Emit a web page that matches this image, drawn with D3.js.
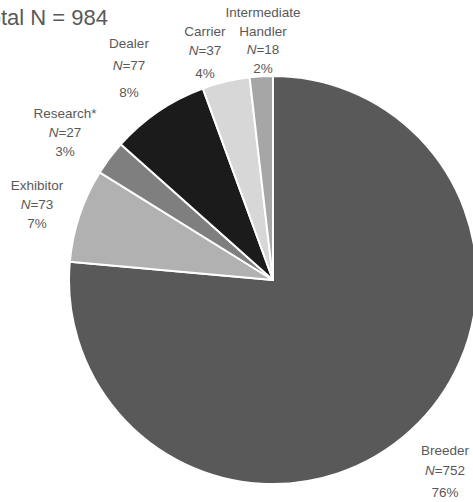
<!DOCTYPE html>
<html>
<head>
<meta charset="utf-8">
<script src="https://cdn.jsdelivr.net/npm/d3@7"></script>
<style>
  html, body { margin: 0; padding: 0; background: #fff; }
  svg { display: block; }
  text { font-family: "Liberation Sans", Arial, sans-serif; fill: #595959; }
</style>
</head>
<body>
<svg id="chart" width="473" height="502"></svg>
<script>
// Category order follows the pie clockwise from 12 o'clock
const categories = ["Breeder", "Exhibitor", "Research*", "Dealer", "Carrier", "Intermediate Handler"];
const counts = [752, 73, 27, 77, 37, 18];
const fills = ["#595959", "#b1b1b1", "#7f7f7f", "#1b1b1b", "#d7d7d7", "#a6a6a6"];
const totalLabel = "Total N = 984";

// Label anchor points (centre x, first-line y) and line heights for each category
const labelLayout = {
  "Breeder":              { x: 445, y: 455, name: ["Breeder"], gaps: [20, 22] },
  "Exhibitor":            { x: 37,  y: 190, name: ["Exhibitor"], gaps: [19, 19] },
  "Research*":            { x: 65,  y: 118, name: ["Research*"], gaps: [19, 19] },
  "Dealer":               { x: 129, y: 48,  name: ["Dealer"], gaps: [22, 27] },
  "Carrier":              { x: 205, y: 36,  name: ["Carrier"], gaps: [19, 23] },
  "Intermediate Handler": { x: 263, y: 17,  name: ["Intermediate", "Handler"], gaps: [19, 18, 19] }
};

const data = categories.map((c, i) => ({ name: c, value: counts[i], fill: fills[i] }));
const total = d3.sum(counts);

const svg = d3.select("#chart");
const cx = 273, cy = 280, radius = 204;

const pie = d3.pie().value(d => d.value).sort(null).startAngle(0).endAngle(2 * Math.PI);
const arc = d3.arc().innerRadius(0).outerRadius(radius);

const g = svg.append("g").attr("transform", `translate(${cx},${cy})`);
g.selectAll("path")
  .data(pie(data))
  .join("path")
  .attr("d", arc)
  .attr("fill", d => d.data.fill)
  .attr("stroke", "#ffffff")
  .attr("stroke-width", 2)
  .attr("stroke-linejoin", "round");

// Category labels: name line(s), italic N count, percentage
data.forEach(d => {
  const L = labelLayout[d.name];
  const t = svg.append("text")
    .attr("text-anchor", "middle")
    .attr("font-size", 13.5);
  let y = L.y;
  L.name.forEach((line, i) => {
    t.append("tspan").attr("x", L.x).attr("y", y).text(line);
    y += L.gaps[i];
  });
  const nLine = t.append("tspan").attr("x", L.x).attr("y", y);
  nLine.append("tspan").attr("font-style", "italic").text("N");
  nLine.append("tspan").text("=" + d.value);
  y += L.gaps[L.name.length];
  t.append("tspan").attr("x", L.x).attr("y", y)
    .text(Math.round(d.value / total * 100) + "%");
});

// Overall total, with its first two letters running off the left edge
const totalText = svg.append("text")
  .attr("y", 25)
  .attr("font-size", 22)
  .text(totalLabel);
const clipWidth = totalText.node().getSubStringLength(0, 2);
totalText.attr("x", -clipWidth + 1);
</script>
</body>
</html>
